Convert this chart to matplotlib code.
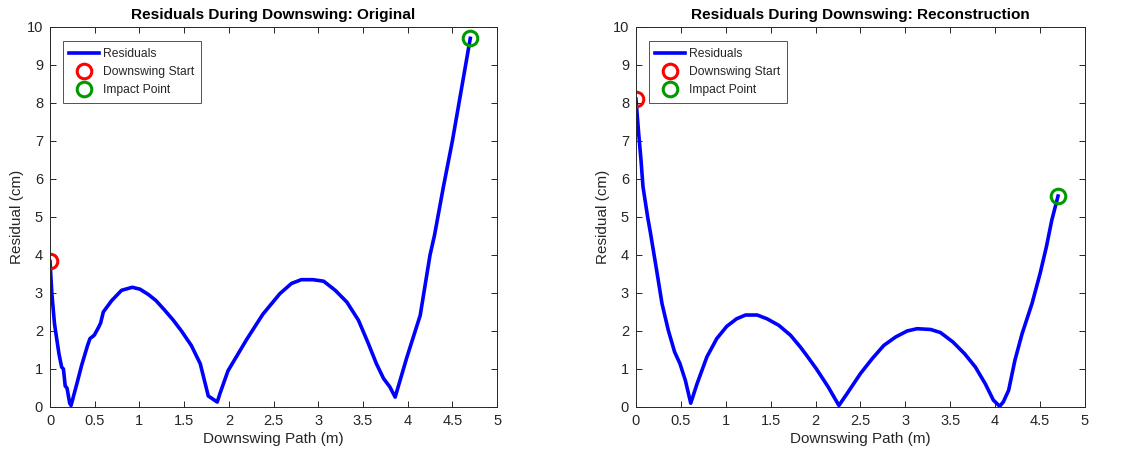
import numpy as np
import matplotlib
matplotlib.use("Agg")
import matplotlib.pyplot as plt
from matplotlib.ticker import FuncFormatter, MultipleLocator

plt.rcParams["font.family"] = ["Liberation Sans", "DejaVu Sans"]

# ---------- data ----------
ORIG_X = [0.0, 0.02, 0.05, 0.10, 0.13, 0.15, 0.17, 0.19, 0.22, 0.235, 0.30, 0.354,
          0.42, 0.447, 0.495, 0.544, 0.566, 0.596, 0.69, 0.80, 0.92, 1.006, 1.10,
          1.185, 1.285, 1.38, 1.47, 1.58, 1.68, 1.77, 1.87, 1.90, 1.99, 2.20, 2.38,
          2.57, 2.70, 2.81, 2.94, 3.06, 3.19, 3.32, 3.45, 3.56, 3.65, 3.73, 3.80,
          3.86, 3.99, 4.14, 4.25, 4.30, 4.40, 4.50, 4.60, 4.70]
ORIG_Y = [3.83, 3.0, 2.19, 1.4, 1.05, 1.0, 0.55, 0.5, 0.1, 0.04, 0.61, 1.1,
          1.62, 1.8, 1.89, 2.1, 2.21, 2.5, 2.8, 3.07, 3.15, 3.1, 2.96,
          2.8, 2.54, 2.28, 2.0, 1.62, 1.14, 0.29, 0.13, 0.35, 0.95, 1.78, 2.44,
          2.98, 3.25, 3.35, 3.35, 3.31, 3.07, 2.76, 2.28, 1.67, 1.14, 0.75, 0.53,
          0.26, 1.3, 2.41, 4.0, 4.52, 5.8, 7.0, 8.35, 9.7]

RECON_X = [0.0, 0.03, 0.056, 0.078, 0.13, 0.16, 0.23, 0.29, 0.36, 0.43, 0.49, 0.55,
           0.61, 0.68, 0.79, 0.90, 1.01, 1.12, 1.22, 1.35, 1.46, 1.59, 1.72, 1.83,
           1.90, 2.01, 2.14, 2.26, 2.35, 2.50, 2.63, 2.76, 2.89, 3.02, 3.13, 3.28,
           3.39, 3.53, 3.66, 3.78, 3.89, 3.98, 4.05, 4.09, 4.15, 4.22, 4.30, 4.41,
           4.50, 4.57, 4.63, 4.70]
RECON_Y = [8.1, 7.2, 6.5, 5.8, 5.0, 4.6, 3.6, 2.72, 2.02, 1.45, 1.14, 0.7,
           0.1, 0.61, 1.32, 1.8, 2.12, 2.32, 2.42, 2.42, 2.32, 2.15, 1.89, 1.58,
           1.36, 1.0, 0.53, 0.04, 0.35, 0.88, 1.27, 1.62, 1.84, 2.0, 2.06, 2.04,
           1.96, 1.71, 1.4, 1.05, 0.61, 0.18, 0.02, 0.13, 0.44, 1.23, 1.93, 2.72,
           3.51, 4.21, 4.91, 5.55]

TITLES = ["Residuals During Downswing: Original",
          "Residuals During Downswing: Reconstruction"]

AX_GRAY = (0.15, 0.15, 0.15)
GREEN = (0.0, 0.6, 0.0)


def draw(ax, x, y, title):
    ax.plot(x, y, color="blue", linewidth=2.6, label="Residuals")
    ax.plot(x[0], y[0], "o", markersize=10.5, markerfacecolor="none",
            markeredgecolor="red", markeredgewidth=2.2, linestyle="none",
            label="Downswing Start")
    ax.plot(x[-1], y[-1], "o", markersize=10.5, markerfacecolor="none",
            markeredgecolor=GREEN, markeredgewidth=2.2, linestyle="none",
            label="Impact Point")

    ax.set_xlim(0, 5)
    ax.set_ylim(0, 10)
    ax.xaxis.set_major_locator(MultipleLocator(0.5))
    ax.yaxis.set_major_locator(MultipleLocator(1))
    ax.xaxis.set_major_formatter(FuncFormatter(lambda v, p: "%g" % v))
    ax.yaxis.set_major_formatter(FuncFormatter(lambda v, p: "%g" % v))
    ax.tick_params(direction="in", top=True, right=True, length=4, width=0.7,
                   colors=AX_GRAY, labelsize=10.5, pad=5)
    for s in ax.spines.values():
        s.set_color(AX_GRAY)
        s.set_linewidth(0.7)

    ax.set_xlabel("Downswing Path (m)", fontsize=11, color=AX_GRAY, labelpad=3)
    ax.set_ylabel("Residual (cm)", fontsize=11, color=AX_GRAY, labelpad=2)
    ax.set_title(title, fontsize=11.1, fontweight="bold", pad=6)

    leg = ax.legend(loc="upper left", bbox_to_anchor=(0.028, 0.962),
                    fontsize=8.7, frameon=True, fancybox=False,
                    edgecolor=AX_GRAY, handlelength=2.5, borderpad=0.55,
                    labelspacing=0.5, handletextpad=0.3, borderaxespad=0.0)
    leg.get_frame().set_linewidth(0.7)
    for t in leg.get_texts():
        t.set_color(AX_GRAY)


def main():
    fig = plt.figure(figsize=(11.29, 4.59), dpi=100)
    ax1 = fig.add_axes([0.0443, 0.1133, 0.396, 0.828])
    ax2 = fig.add_axes([0.5633, 0.1133, 0.3977, 0.828])

    draw(ax1, ORIG_X, ORIG_Y, TITLES[0])
    draw(ax2, RECON_X, RECON_Y, TITLES[1])

    fig.savefig("out.png", dpi=100)
    plt.close(fig)


if __name__ == "__main__":
    main()
